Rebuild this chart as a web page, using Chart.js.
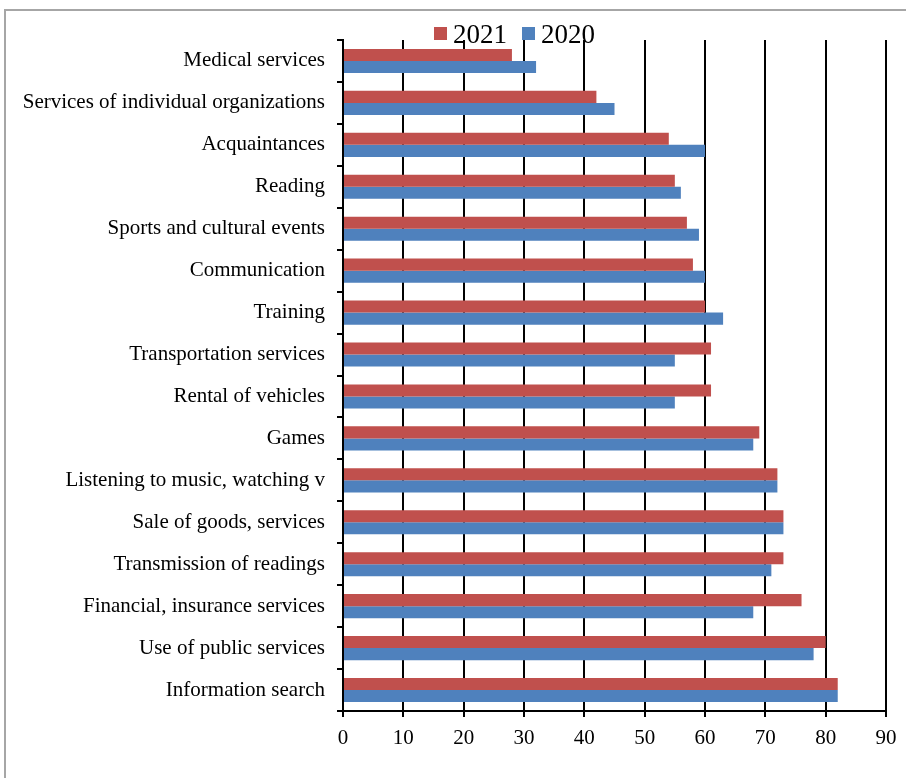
<!DOCTYPE html>
<html>
<head>
<meta charset="utf-8">
<script src="https://cdn.jsdelivr.net/npm/chart.js@4/dist/chart.umd.min.js"></script>
<style>
  html, body { margin: 0; padding: 0; background: #fff; overflow: hidden; }
  #frame { position: absolute; left: 4px; top: 9px; width: 920px; height: 800px; border: 2px solid #a6a6a6; }
  #chart { position: absolute; left: 0; top: 0; }
</style>
</head>
<body>
<div id="frame"></div>
<canvas id="chart" width="906" height="778"></canvas>
<script>
// categories, top to bottom
const categories = [
    'Medical services',
    'Services of individual organizations',
    'Acquaintances',
    'Reading',
    'Sports and cultural events',
    'Communication',
    'Training',
    'Transportation services',
    'Rental of vehicles',
    'Games',
    'Listening to music, watching v',
    'Sale of goods, services',
    'Transmission of readings',
    'Financial, insurance services',
    'Use of public services',
    'Information search'
];

const values2021 = [28, 42, 54, 55, 57, 58, 60, 61, 61, 69, 72, 73, 73, 76, 80, 82];
const values2020 = [32, 45, 60, 56, 59, 60, 63, 55, 55, 68, 72, 73, 71, 68, 78, 82];

const xTicks = { min: 0, max: 90, step: 10 };

const serif = '"Liberation Serif", "Times New Roman", serif';

// legend drawn by hand so it can sit over the top of the plot like the original
const topLegend = {
    id: 'topLegend',
    afterDraw(chart) {
        const ctx = chart.ctx;
        ctx.save();
        ctx.font = '27px ' + serif;
        ctx.textBaseline = 'alphabetic';
        let x = 434;
        chart.data.datasets.forEach(ds => {
            ctx.fillStyle = ds.backgroundColor;
            ctx.fillRect(x, 27, 13, 13);
            x += 19;
            ctx.fillStyle = '#000';
            ctx.fillText(ds.label, x, 43);
            x += ctx.measureText(ds.label).width + 15;
        });
        ctx.restore();
    }
};

new Chart(document.getElementById('chart'), {
    type: 'bar',
    data: {
        labels: categories,
        datasets: [
            { label: '2021', data: values2021, backgroundColor: '#C0504D' },
            { label: '2020', data: values2020, backgroundColor: '#4F81BD' }
        ]
    },
    options: {
        indexAxis: 'y',
        responsive: false,
        animation: false,
        layout: { padding: { top: 40, right: 20, left: 0, bottom: 0 } },
        datasets: {
            bar: { barPercentage: 1, categoryPercentage: 0.575 }
        },
        plugins: {
            legend: { display: false },
            tooltip: { enabled: false }
        },
        scales: {
            x: {
                min: xTicks.min,
                max: xTicks.max,
                afterFit(scale) { scale.height = 67; },
                grid: { color: '#000', lineWidth: 2, tickLength: 6 },
                border: { color: '#000', width: 2 },
                ticks: {
                    stepSize: xTicks.step,
                    color: '#000',
                    padding: 9,
                    font: { family: serif, size: 21 }
                }
            },
            y: {
                afterFit(scale) { scale.width = 343; },
                grid: { drawOnChartArea: false, color: '#000', lineWidth: 2, tickLength: 6 },
                border: { color: '#000', width: 2 },
                ticks: {
                    color: '#000',
                    padding: 12,
                    autoSkip: false,
                    font: { family: serif, size: 21 }
                }
            }
        }
    },
    plugins: [topLegend]
});
</script>
</body>
</html>
